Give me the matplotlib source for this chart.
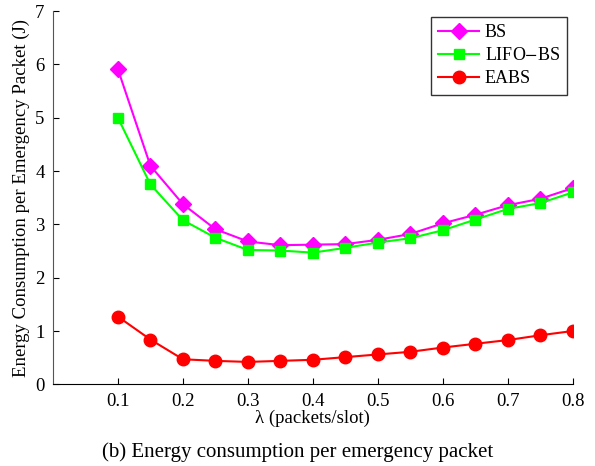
import matplotlib
matplotlib.use('Agg')
import matplotlib.pyplot as plt

plt.rcParams['font.family'] = ['Liberation Serif', 'DejaVu Serif']
plt.rcParams['mathtext.fontset'] = 'stix'

lam = [0.1, 0.15, 0.2, 0.25, 0.3, 0.35, 0.4, 0.45, 0.5, 0.55, 0.6, 0.65, 0.7, 0.75, 0.8]
bs = [5.91, 4.10, 3.38, 2.91, 2.68, 2.61, 2.62, 2.63, 2.71, 2.82, 3.02, 3.18, 3.36, 3.48, 3.68]
lifo_bs = [5.00, 3.75, 3.08, 2.75, 2.52, 2.51, 2.47, 2.56, 2.66, 2.74, 2.89, 3.09, 3.29, 3.40, 3.60]
eabs = [1.27, 0.84, 0.47, 0.44, 0.42, 0.44, 0.46, 0.51, 0.56, 0.61, 0.69, 0.76, 0.83, 0.92, 1.00]

xticks = [0.1, 0.2, 0.3, 0.4, 0.5, 0.6, 0.7, 0.8]
yticks = [0, 1, 2, 3, 4, 5, 6, 7]

fig = plt.figure(figsize=(5.95, 4.66), dpi=100)
ax = fig.add_axes([0.089, 0.1753, 0.8735, 0.8007])

ax.plot(lam, bs, color='#FF00FF', marker='D', markersize=8, linewidth=1.5, label='BS')
ax.plot(lam, lifo_bs, color='#00FF00', marker='s', markersize=7, linewidth=1.5, label='LIFO$-$BS')
ax.plot(lam, eabs, color='#FF0000', marker='o', markersize=9, linewidth=1.5, label='EABS')

ax.set_xlim(0, 0.8)
ax.set_ylim(0, 7)
ax.set_xticks(xticks)
ax.set_xticklabels([f'{v:g}' for v in xticks])
ax.set_yticks(yticks)
ax.tick_params(direction='in', labelsize=13.5, length=4, pad=6)
ax.spines['top'].set_visible(False)
ax.spines['right'].set_visible(False)
ax.spines['left'].set_color('#555555')

ax.set_xlabel('λ (packets/slot)', fontsize=13.5, labelpad=0)
ax.set_ylabel('Energy Consumption per Emergency Packet (J)', fontsize=13.5, labelpad=4)

leg = ax.legend(loc='upper right', bbox_to_anchor=(1.0, 1.0), fontsize=13,
                frameon=True, fancybox=False, edgecolor='black',
                handlelength=2.3, handletextpad=0.3, borderpad=0.4,
                labelspacing=0.35, borderaxespad=0.3)
leg.get_frame().set_linewidth(1.0)

fig.text(0.5, 0.008, '(b) Energy consumption per emergency packet', ha='center', va='bottom', fontsize=15)

fig.savefig('out.png', dpi=100)
